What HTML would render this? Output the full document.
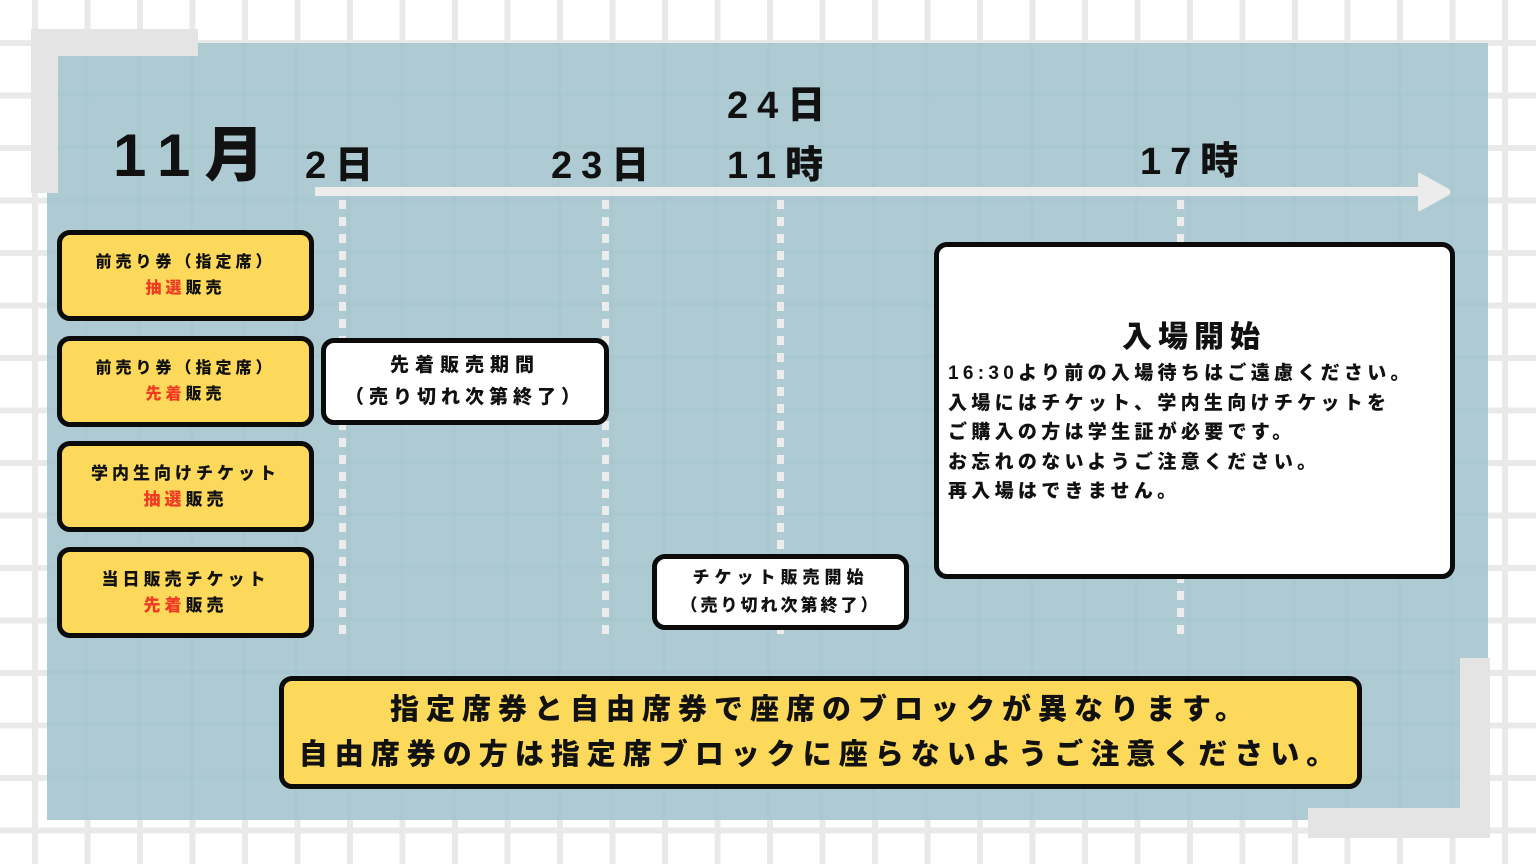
<!DOCTYPE html>
<html><head><meta charset="utf-8"><style>
*{margin:0;padding:0;box-sizing:border-box}
body{width:1536px;height:864px;overflow:hidden;position:relative;font-family:"Liberation Sans","Noto Sans CJK JP",sans-serif;font-weight:900;color:#111;
background-color:#fff;
background-image:linear-gradient(to right,#e9e9e9 0 6px,transparent 6px),linear-gradient(to bottom,#e9e9e9 0 6px,transparent 6px);
background-size:52.5px 52.5px;background-position:32px 40px;}
.a{position:absolute}
.panel{left:47px;top:43px;width:1441px;height:777px;background-color:#aecbd3;
background-image:linear-gradient(to right,rgba(160,192,201,.3) 0 4px,transparent 4px),linear-gradient(to bottom,rgba(160,192,201,.3) 0 4px,transparent 4px);
background-size:52.5px 52.5px;background-position:-15px -3px}
.g{background:#e4e4e4}
.box{position:absolute;border:5px solid #0b0b0b;border-radius:13px;display:flex;flex-direction:column;align-items:center;justify-content:center;text-align:center}
.y{background:#fcd95a}
.w{background:#fff}
.s{font-size:16px;letter-spacing:4px;line-height:26px}
.r{color:#f03a24}
.d{position:absolute;width:7px;top:200px;height:440px;background:repeating-linear-gradient(to bottom,#ececec 0 9px,transparent 9px 17px)}
.lb{position:absolute;font-size:38px;letter-spacing:9px;line-height:1}
</style></head><body>
<div class="a panel"></div>
<div class="a g" style="left:31px;top:29px;width:167px;height:27px"></div>
<div class="a g" style="left:31px;top:29px;width:27px;height:164px"></div>
<div class="a g" style="left:1460px;top:658px;width:30px;height:180px"></div>
<div class="a g" style="left:1308px;top:808px;width:182px;height:30px"></div>

<div class="lb" style="left:113px;top:126px;font-size:60px;letter-spacing:14px">11月</div>
<div class="lb" style="left:305px;top:147px">2日</div>
<div class="lb" style="left:551px;top:147px">23日</div>
<div class="lb" style="left:727px;top:87px">24日</div>
<div class="lb" style="left:727px;top:147px">11時</div>
<div class="lb" style="left:1140px;top:143px">17時</div>

<div class="a" style="left:315px;top:187px;width:1110px;height:9px;background:#ececec"></div>
<svg class="a" style="left:1414px;top:170px" width="40" height="44"><path d="M6 3 L35 19 Q38 22 35 25 L6 41 Q4 42 4 39 L4 5 Q4 2 6 3Z" fill="#ececec"/></svg>
<div class="d" style="left:339px"></div>
<div class="d" style="left:602px"></div>
<div class="d" style="left:777px"></div>
<div class="d" style="left:1177px"></div>

<div class="box y" style="left:57px;top:230px;width:257px;height:91px"><div class="s">前売り券（指定席）</div><div class="s"><span class="r">抽選</span>販売</div></div>
<div class="box y" style="left:57px;top:336px;width:257px;height:91px"><div class="s">前売り券（指定席）</div><div class="s"><span class="r">先着</span>販売</div></div>
<div class="box y" style="left:57px;top:441px;width:257px;height:91px"><div class="s" style="font-size:17px">学内生向けチケット</div><div class="s" style="font-size:17px"><span class="r">抽選</span>販売</div></div>
<div class="box y" style="left:57px;top:547px;width:257px;height:91px"><div class="s" style="font-size:17px">当日販売チケット</div><div class="s" style="font-size:17px"><span class="r">先着</span>販売</div></div>

<div class="box w" style="left:321px;top:338px;width:288px;height:87px"><div style="font-size:19px;letter-spacing:6px;line-height:32px">先着販売期間</div><div style="font-size:19px;letter-spacing:5px;line-height:32px">（売り切れ次第終了）</div></div>
<div class="box w" style="left:652px;top:554px;width:257px;height:76px"><div style="font-size:17px;letter-spacing:5px;line-height:28px">チケット販売開始</div><div style="font-size:17px;letter-spacing:3px;line-height:28px">（売り切れ次第終了）</div></div>

<div class="box w" style="left:934px;top:242px;width:521px;height:337px;display:block;text-align:left;padding:70px 0 0 9px">
<div style="font-size:30px;letter-spacing:6px;line-height:42px;text-align:center;padding-right:10px">入場開始</div>
<div style="font-size:19px;letter-spacing:4.3px;line-height:29.6px">16:30より前の入場待ちはご遠慮ください。<br>入場にはチケット、学内生向けチケットを<br>ご購入の方は学生証が必要です。<br>お忘れのないようご注意ください。<br>再入場はできません。</div>
</div>

<div class="box y" style="left:279px;top:676px;width:1083px;height:113px"><div style="font-size:29px;letter-spacing:7px;line-height:45px">指定席券と自由席券で座席のブロックが異なります。<br>自由席券の方は指定席ブロックに座らないようご注意ください。</div></div>
</body></html>
